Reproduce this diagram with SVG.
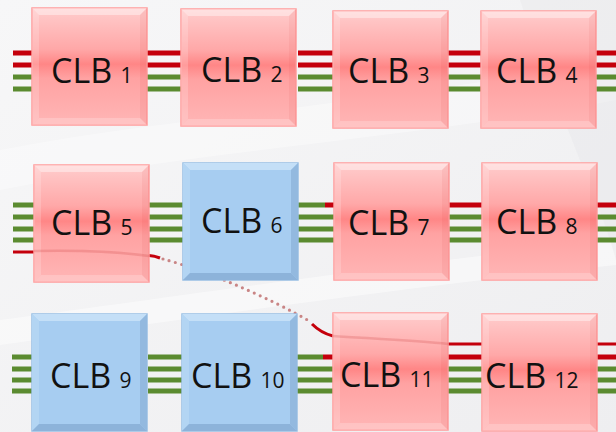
<svg xmlns="http://www.w3.org/2000/svg" xmlns:xlink="http://www.w3.org/1999/xlink" width="616" height="432" viewBox="0 0 616 432">
<style>
.g{stroke:#5b8b30;stroke-width:5;fill:none}
.r{stroke:#c4000c;stroke-width:5;fill:none}
.rt{stroke:#c4000c;stroke-width:3;fill:none}
.dot{stroke:#c98585;stroke-width:3.2;stroke-linecap:round;stroke-dasharray:0 6.5;fill:none}
.faint{stroke:#d04848;stroke-width:2.5;fill:none;opacity:0.25}
.lbl{font-family:"Open Sans","Liberation Sans",sans-serif;font-size:34px;fill:#111}
.num{font-size:21px}
</style>
<defs>
<linearGradient id="pinkGrad" x1="0" y1="0" x2="0" y2="1">
<stop offset="0" stop-color="#ffcdcd"/>
<stop offset="0.35" stop-color="#ffa8a8"/>
<stop offset="0.48" stop-color="#ff8686"/>
<stop offset="0.6" stop-color="#ffa2a2"/>
<stop offset="1" stop-color="#ffb6b6"/>
</linearGradient>
<linearGradient id="bg" x1="0" y1="0" x2="1" y2="1">
<stop offset="0" stop-color="#f7f7f8"/>
<stop offset="1" stop-color="#eeeef0"/>
</linearGradient>
<g id="redBox">
<rect x="0" y="0" width="115" height="117" fill="url(#pinkGrad)" stroke="#ff9c9c" stroke-width="1.5"/>
<polygon points="0,0 115,0 108,7 7,7" fill="#ffffff" opacity="0.4"/>
<polygon points="0,0 7,7 7,110 0,117" fill="#ffffff" opacity="0.18"/>
<polygon points="115,0 115,117 108,110 108,7" fill="#c03030" opacity="0.07"/>
<polygon points="0,117 115,117 108,110 7,110" fill="#ffffff" opacity="0.2"/>
</g>
<g id="blueBox">
<rect x="0" y="0" width="115" height="117" fill="#a7cdf1" stroke="#98bfe4" stroke-width="1.5"/>
<polygon points="0,0 115,0 108,7 7,7" fill="#c4dff7"/>
<polygon points="0,0 7,7 7,110 0,117" fill="#b3d5f3"/>
<polygon points="115,0 115,117 108,110 108,7" fill="#93b9df"/>
<polygon points="0,117 115,117 108,110 7,110" fill="#8db3da"/>
</g>
</defs>
<rect x="0" y="0" width="616" height="432" fill="url(#bg)"/>
<path d="M0,150 C150,120 330,110 616,60 L616,100 C400,140 200,150 0,190 Z" fill="#ffffff" opacity="0.35"/>
<path d="M0,320 C150,300 350,270 616,240 L616,265 C380,290 180,320 0,345 Z" fill="#ffffff" opacity="0.45"/>
<path d="M520,0 C560,120 600,200 616,260 L616,0 Z" fill="#e6e6e9" opacity="0.4"/>

<g id="connectors">
<path class="r" d="M13,53H32M146,53H181M298,53H333M448,53H481M596,53H616"/>
<path class="r" d="M13,65H32M146,65H181M298,65H333M448,65H481M596,65H616"/>
<path class="g" d="M13,77H32M146,77H181M298,77H333M448,77H481M596,77H616"/>
<path class="g" d="M13,89H32M146,89H181M298,89H333M448,89H481M596,89H616"/>
<path class="g" d="M13,205H34M149,205H183M298,205H325"/>
<path class="r" d="M325,205H334M449,205H482M597,205H616"/>
<path class="g" d="M13,217H34M149,217H183M298,217H334M449,217H482M597,217H616"/>
<path class="g" d="M13,229H34M149,229H183M298,229H334M449,229H482M597,229H616"/>
<path class="g" d="M13,240H34M149,240H183M298,240H334M449,240H482M597,240H616"/>
<path class="rt" d="M13,252H34"/>
<path class="rt" d="M149,255.5Q155,256 160,258"/>
<path class="dot" d="M163,259C205,270 270,298 311,322"/>
<path class="rt" stroke-width="3.5" d="M312,324Q321,333 333,336"/>
<path class="g" d="M12,357H32M148,357H182M297,357H323"/>
<path class="r" d="M323,357H333M448,357H482M596,357H616"/>
<path class="rt" d="M448,344H482M596,344H616"/>
<path class="g" d="M12,369H32M148,369H182M297,369H333M448,369H482M596,369H616"/>
<path class="g" d="M12,380H32M148,380H182M297,380H333M448,380H482M596,380H616"/>
<path class="g" d="M12,391H32M148,391H182M297,391H333M448,391H482M596,391H616"/>
</g>

<g id="clb1"><use xlink:href="#redBox" x="32" y="8"/><text class="lbl" x="51" y="83">CLB<tspan class="num" dx="3"> 1</tspan></text></g>
<g id="clb2"><use xlink:href="#redBox" x="181" y="9"/><text class="lbl" x="201" y="82">CLB<tspan class="num" dx="3"> 2</tspan></text></g>
<g id="clb3"><use xlink:href="#redBox" x="333" y="11"/><text class="lbl" x="348" y="83">CLB<tspan class="num" dx="3"> 3</tspan></text></g>
<g id="clb4"><use xlink:href="#redBox" x="481" y="11"/><text class="lbl" x="496" y="83">CLB<tspan class="num" dx="3"> 4</tspan></text></g>

<g id="clb5"><use xlink:href="#redBox" x="34" y="165"/><path class="faint" d="M34,251C80,250 120,252 149,256"/><text class="lbl" x="51" y="235">CLB<tspan class="num" dx="3"> 5</tspan></text></g>
<g id="clb6"><use xlink:href="#blueBox" x="183" y="163"/><text class="lbl" x="201" y="233">CLB<tspan class="num" dx="3"> 6</tspan></text></g>
<g id="clb7"><use xlink:href="#redBox" x="334" y="163"/><text class="lbl" x="348" y="235">CLB<tspan class="num" dx="3"> 7</tspan></text></g>
<g id="clb8"><use xlink:href="#redBox" x="482" y="163"/><text class="lbl" x="496" y="234">CLB<tspan class="num" dx="3"> 8</tspan></text></g>

<g id="clb9"><use xlink:href="#blueBox" x="32" y="314"/><text class="lbl" x="50" y="388">CLB<tspan class="num" dx="3"> 9</tspan></text></g>
<g id="clb10"><use xlink:href="#blueBox" x="182" y="314"/><text class="lbl" x="191" y="388">CLB<tspan class="num" dx="3"> 10</tspan></text></g>
<g id="clb11"><use xlink:href="#redBox" x="333" y="313"/><path class="faint" d="M333,336C380,339 420,341 448,344"/><text class="lbl" x="340" y="387">CLB<tspan class="num" dx="3"> 11</tspan></text></g>
<g id="clb12"><use xlink:href="#redBox" x="482" y="314"/><text class="lbl" x="485" y="388">CLB<tspan class="num" dx="3"> 12</tspan></text></g>
</svg>
